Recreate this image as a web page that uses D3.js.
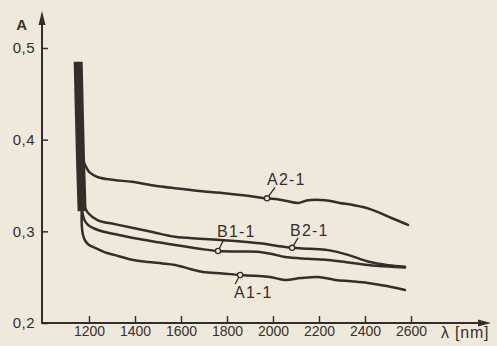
<!DOCTYPE html>
<html>
<head>
<meta charset="utf-8">
<script src="https://cdn.jsdelivr.net/npm/d3@7"></script>
<style>
  html, body { margin: 0; padding: 0; background: #efe9dc; }
  svg { display: block; }
  text { font-family: "Liberation Sans", Arial, sans-serif; fill: #35302b; }
</style>
</head>
<body>
<svg id="chart" width="497" height="346"></svg>
<script>
// ---- data ----
const xTicks = [1200, 1400, 1600, 1800, 2000, 2200, 2400, 2600];
const yTicks = [0.2, 0.3, 0.4, 0.5];
const seriesNames = ["A2-1", "B2-1", "B1-1", "A1-1"];

// common steep edge of all four curves (where they overlap)
const trunk = [[1153, 0.485], [1158, 0.43], [1164, 0.37], [1170, 0.322]];

const a21 = [[1165, 0.40], [1170, 0.385], [1177, 0.376], [1190, 0.369], [1204, 0.364], [1239, 0.359],
  [1310, 0.356], [1387, 0.354], [1480, 0.350], [1574, 0.347], [1680, 0.344], [1770, 0.342],
  [1880, 0.339], [1974, 0.336], [2020, 0.335], [2060, 0.333], [2109, 0.331], [2152, 0.334],
  [2226, 0.334], [2290, 0.331], [2343, 0.329], [2400, 0.326], [2457, 0.321], [2520, 0.314], [2587, 0.307]];
const b21 = [[1168, 0.350], [1172, 0.336], [1181, 0.327], [1196, 0.320], [1239, 0.312], [1310, 0.308],
  [1387, 0.304], [1480, 0.299], [1574, 0.294], [1680, 0.292], [1770, 0.2905], [1860, 0.289],
  [1943, 0.287], [2020, 0.284], [2083, 0.282], [2160, 0.281], [2239, 0.2795], [2330, 0.274],
  [2413, 0.267], [2500, 0.263], [2574, 0.2615]];
const b11 = [[1169, 0.332], [1173, 0.318], [1183, 0.311], [1196, 0.307], [1239, 0.3015], [1310, 0.297],
  [1387, 0.293], [1480, 0.289], [1574, 0.285], [1680, 0.281], [1761, 0.2785], [1860, 0.278],
  [1943, 0.2775], [2000, 0.275], [2052, 0.272], [2150, 0.270], [2239, 0.2687], [2330, 0.266],
  [2413, 0.2633], [2500, 0.2615], [2574, 0.2605]];
const a11 = [[1168, 0.322], [1169, 0.305], [1174, 0.296], [1183, 0.290], [1200, 0.285], [1226, 0.282],
  [1270, 0.277], [1313, 0.274], [1387, 0.269], [1457, 0.2665], [1520, 0.265], [1574, 0.2633],
  [1640, 0.259], [1696, 0.2556], [1780, 0.254], [1857, 0.2524], [1920, 0.2515], [1987, 0.2502],
  [2052, 0.247], [2120, 0.249], [2196, 0.2502], [2270, 0.247], [2340, 0.2455], [2413, 0.2436],
  [2500, 0.240], [2574, 0.236]];

// wavelength at which each curve carries its label marker
const markerLambda = [1974, 2083, 1761, 1857];

// ---- drawing ----
const svg = d3.select("#chart");
const ink = "#332e2a";
const paper = "#efe9dc";
const x = d3.scaleLinear().domain([1200, 2600]).range([89, 411]);
const y = d3.scaleLinear().domain([0.2, 0.5]).range([323, 48]);

const axisX = 42, axisY = 323;

// axis lines with arrows
svg.append("line").attr("x1", axisX).attr("y1", axisY + 1).attr("x2", axisX).attr("y2", 20)
  .attr("stroke", ink).attr("stroke-width", 2);
svg.append("path").attr("d", `M${axisX},11 L${axisX - 3.5},25 L${axisX + 3.5},25 Z`).attr("fill", ink);
svg.append("line").attr("x1", axisX).attr("y1", axisY).attr("x2", 480).attr("y2", axisY)
  .attr("stroke", ink).attr("stroke-width", 2);
svg.append("path").attr("d", `M491,${axisY} L478,${axisY - 3.5} L478,${axisY + 3.5} Z`).attr("fill", ink);

// x axis ticks
const gx = svg.append("g").attr("transform", `translate(0,${axisY})`)
  .call(d3.axisBottom(x).tickValues(xTicks).tickSizeInner(-7).tickSizeOuter(0).tickPadding(3).tickFormat(d3.format("d")));
gx.select(".domain").remove();
gx.selectAll(".tick line").attr("stroke", ink).attr("stroke-width", 1.5);
gx.selectAll(".tick text").attr("font-size", 14).attr("fill", "#35302b")
  .style("font-family", "'Liberation Sans', Arial, sans-serif");

// y axis ticks
const gy = svg.append("g").attr("transform", `translate(${axisX},0)`)
  .call(d3.axisLeft(y).tickValues(yTicks).tickSizeInner(-6).tickSizeOuter(0).tickPadding(7)
    .tickFormat(d => d3.format(".1f")(d).replace(".", ",")));
gy.select(".domain").remove();
gy.selectAll(".tick line").attr("stroke", ink).attr("stroke-width", 1.5);
gy.selectAll(".tick text").attr("font-size", 15).attr("letter-spacing", 0.5).attr("fill", "#35302b")
  .style("font-family", "'Liberation Sans', Arial, sans-serif");

// axis titles
svg.append("text").attr("x", 27).attr("y", 30).attr("text-anchor", "end")
  .attr("font-size", 15).attr("font-weight", "bold").text("A");
svg.append("text").attr("x", 441).attr("y", 338).attr("font-size", 16).attr("letter-spacing", 0.8).text("λ [nm]");

// curves
const line = d3.line().x(d => x(d[0])).y(d => y(d[1])).curve(d3.curveCatmullRom.alpha(0.5));
svg.append("path").datum(trunk).attr("d", d3.line().x(d => x(d[0])).y(d => y(d[1])))
  .attr("fill", "none").attr("stroke", ink).attr("stroke-width", 9).attr("stroke-linecap", "butt");

const allSeries = [a21, b21, b11, a11];
allSeries.forEach(s => {
  svg.append("path").datum(s).attr("d", line)
    .attr("fill", "none").attr("stroke", ink).attr("stroke-width", 2.5)
    .attr("stroke-linejoin", "round").attr("stroke-linecap", "round");
});

// markers and labels
const labelOffsets = [
  { lx: 8, ly: -11, tx: 0, ty: -13 },
  { lx: 6, ly: -10, tx: -2, ty: -12 },
  { lx: 6, ly: -12, tx: -1, ty: -14 },
  { lx: -5, ly: 9, tx: -6, ty: 23 }
];
allSeries.forEach((s, i) => {
  const p = s.find(d => d[0] === markerLambda[i]);
  const cx = x(p[0]), cy = y(p[1]);
  const o = labelOffsets[i];
  svg.append("line").attr("x1", cx).attr("y1", cy).attr("x2", cx + o.lx).attr("y2", cy + o.ly)
    .attr("stroke", ink).attr("stroke-width", 1.3);
  svg.append("circle").attr("cx", cx).attr("cy", cy).attr("r", 2.6)
    .attr("fill", paper).attr("stroke", ink).attr("stroke-width", 1.3);
  svg.append("text").attr("x", cx + o.tx).attr("y", cy + o.ty)
    .attr("font-size", 16).attr("letter-spacing", 1.2).text(seriesNames[i]);
});
</script>
</body>
</html>
